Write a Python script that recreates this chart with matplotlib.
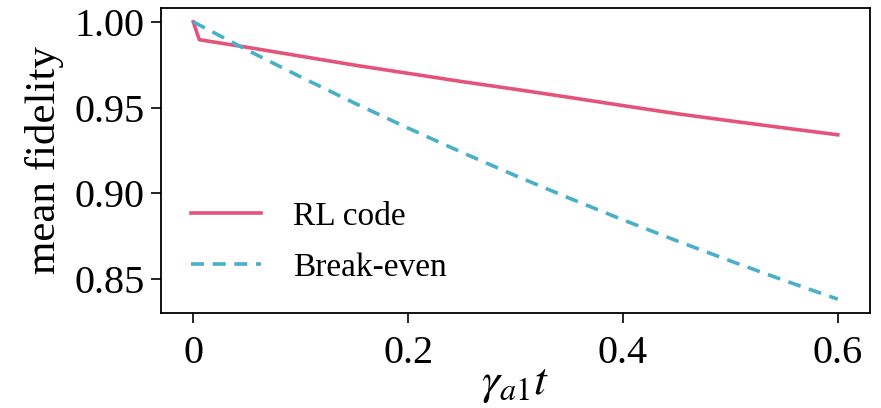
import matplotlib
matplotlib.use('Agg')
import matplotlib.pyplot as plt

plt.rcParams.update({
    'font.family': 'Liberation Serif',
    'mathtext.fontset': 'stix',
    'axes.linewidth': 1.3,
})

# mean fidelity vs gamma_a1 * t
t_rl = [0.0, 0.0056, 0.05, 0.1, 0.15, 0.2, 0.25, 0.3, 0.35, 0.4, 0.45, 0.5, 0.55, 0.6]
f_rl = [1.0, 0.9896, 0.9852, 0.9800, 0.9748, 0.9700, 0.9652, 0.9607, 0.9560,
        0.9512, 0.9465, 0.9423, 0.9382, 0.9342]

t_be = [0.0, 0.05, 0.1, 0.15, 0.2, 0.25, 0.3, 0.35, 0.4, 0.45, 0.5, 0.55, 0.6]
f_be = [1.0, 0.98364, 0.96789, 0.95270, 0.93807, 0.92397, 0.91037, 0.89727,
        0.88463, 0.87244, 0.86069, 0.84935, 0.83841]

xticks = [0, 0.2, 0.4, 0.6]
xticklabels = ['0', '0.2', '0.4', '0.6']
yticks = [0.85, 0.90, 0.95, 1.00]

fig = plt.figure(figsize=(8.81, 4.08), dpi=100)
ax = fig.add_axes([0.1828, 0.2328, 0.8047, 0.7476])

ax.plot(t_rl, f_rl, color='#E5537A', lw=2.6, label='RL code')
ax.plot(t_be, f_be, color='#4AAFC9', lw=2.6, ls=(0, (3.6, 2.4)), label='Break-even')

ax.set_xticks(xticks)
ax.set_xticklabels(xticklabels)
ax.set_yticks(yticks)
ax.set_yticklabels([f'{v:.2f}' for v in yticks])
ax.tick_params(labelsize=29, length=7, width=1.2)
ax.tick_params(axis='x', pad=9)
ax.tick_params(axis='y', pad=5)

ax.set_xlabel(r'$\gamma_{a1}t$', fontsize=33, labelpad=-7)
ax.set_ylabel('mean fidelity', fontsize=31, labelpad=7)

ax.legend(loc='lower left', bbox_to_anchor=(0.0, 0.0), frameon=False,
          fontsize=24, handlelength=2.1, handletextpad=0.95, labelspacing=0.62)

fig.savefig('out.png', dpi=100)
